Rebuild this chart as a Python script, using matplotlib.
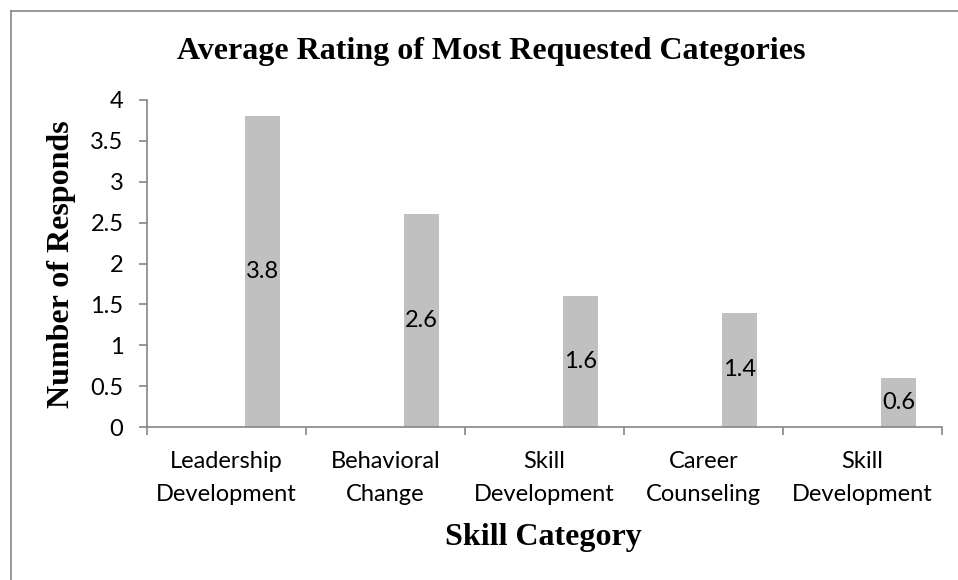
import numpy as np
import matplotlib.pyplot as plt
from matplotlib.lines import Line2D

# Dữ liệu biểu đồ
categories = ['Leadership\nDevelopment', 'Behavioral\nChange', 'Skill\nDevelopment',
              'Career\nCounseling', 'Skill\nDevelopment']
ratings = [3.8, 2.6, 1.6, 1.4, 0.6]
y_ticks = [0, 0.5, 1, 1.5, 2, 2.5, 3, 3.5, 4]

tick_font = 'Lato'
serif_font = 'Liberation Serif'
axis_gray = '#868686'

fig = plt.figure(figsize=(9.58, 5.8), dpi=100)
ax = fig.add_axes([147 / 958, 1 - 427 / 580, (942 - 147) / 958, (427 - 100) / 580])

# Khung viền của vùng biểu đồ
fig.add_artist(Line2D([11 / 958, 11 / 958], [0, 1 - 11 / 580], transform=fig.transFigure,
                      color=axis_gray, lw=1.2))
fig.add_artist(Line2D([11 / 958, 1], [1 - 11 / 580, 1 - 11 / 580], transform=fig.transFigure,
                      color=axis_gray, lw=1.2))

x = np.arange(len(categories))
bars = ax.bar(x + 0.226, ratings, width=0.22, color='#c0c0c0')

# Nhãn giá trị đặt ở giữa cột
for b, v in zip(bars, ratings):
    ax.text(b.get_x() + b.get_width() / 2, v / 2, f'{v}', ha='center', va='center',
            fontsize=17, family=tick_font)

ax.set_xlim(-0.5, len(categories) - 0.5)
ax.set_ylim(0, 4)
ax.set_yticks(y_ticks)
ax.set_yticklabels([f'{t:g}' for t in y_ticks], family=tick_font, fontsize=17)

ax.set_xticks(x)
ax.set_xticklabels(categories, family=tick_font, fontsize=17, linespacing=1.7)
ax.set_xticks(np.arange(len(categories) + 1) - 0.5, minor=True)
ax.tick_params(axis='x', which='major', length=0, pad=17)
ax.tick_params(axis='x', which='minor', length=6, color=axis_gray, width=1.2)
ax.tick_params(axis='y', length=6, color=axis_gray, width=1.2, pad=11)

for s in ['top', 'right']:
    ax.spines[s].set_visible(False)
for s in ['left', 'bottom']:
    ax.spines[s].set_color(axis_gray)
    ax.spines[s].set_linewidth(1.2)

fig.text(491 / 958, 1 - 52 / 580, 'Average Rating of Most Requested Categories',
         ha='center', va='center', family=serif_font, fontweight='bold', fontsize=23)
fig.text(61 / 958, 1 - 264 / 580, 'Number of Responds', rotation=90,
         ha='center', va='center', family=serif_font, fontweight='bold', fontsize=23)
fig.text(543 / 958, 1 - 538 / 580, 'Skill Category',
         ha='center', va='center', family=serif_font, fontweight='bold', fontsize=23)

fig.savefig('out.png', dpi=100)
